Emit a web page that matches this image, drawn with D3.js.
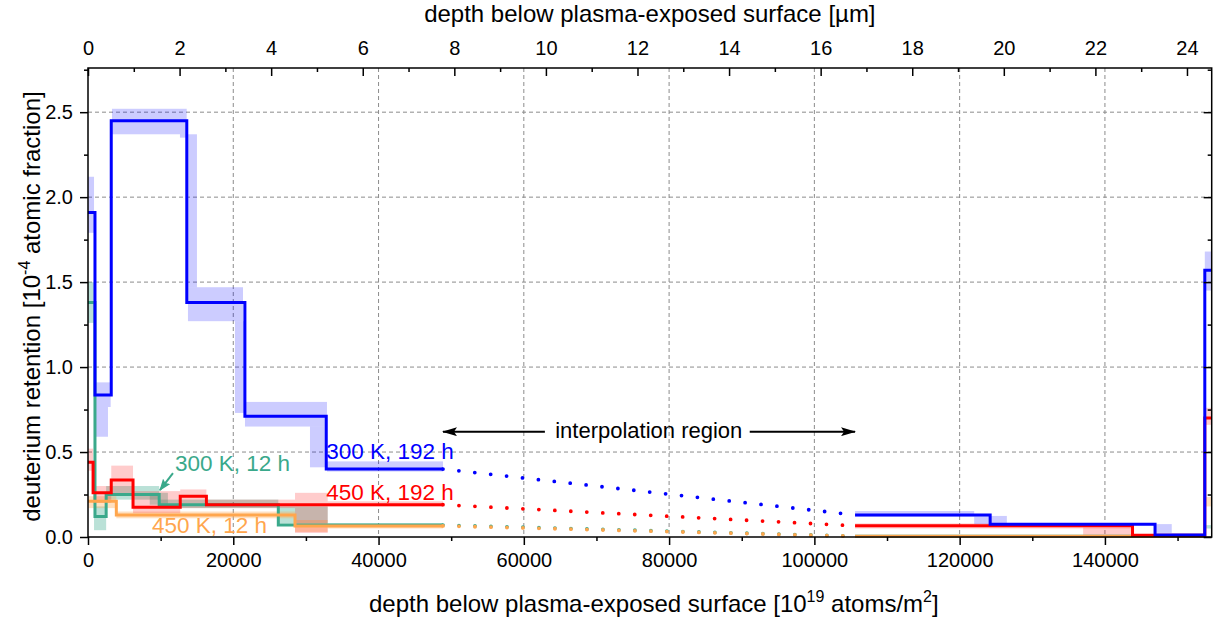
<!DOCTYPE html>
<html>
<head>
<meta charset="utf-8">
<script src="https://cdnjs.cloudflare.com/ajax/libs/d3/7.8.5/d3.min.js"></script>
<style>
body{margin:0;background:#fff;}
svg{display:block;font-family:"Liberation Sans", Arial, sans-serif;}
.axis text{font-size:20px;fill:#000;}
.axis line{stroke:#000;stroke-width:1.5;}
.axis path{display:none;}
</style>
</head>
<body>
<div class="chart-wrapper"></div>
<script>

// step edges are in 10^19 atoms/m2, values in 10^-4 atomic fraction
const blueEdges = [0, 960, 3200, 13600, 21600, 32800, 48870]
const blueValues = [1.91, 0.835, 2.45, 1.38, 0.71, 0.40]
const blueFarEdges = [105600, 124200, 146900, 153750, 154700]
const blueFarValues = [0.13, 0.075, 0.012, 1.57]

const redEdges = [0, 700, 3200, 6200, 12700, 16300, 48870]
const redValues = [0.44, 0.26, 0.335, 0.175, 0.24, 0.19]
const redFarEdges = [105600, 143800, 153750, 154700]
const redFarValues = [0.066, 0.01, 0.70]

const greenEdges = [0, 960, 2500, 9800, 26200, 48870]
const greenValues = [1.38, 0.12, 0.25, 0.19, 0.07]
const greenFarEdges = [105600, 153750]
const greenFarValues = [0.005]

const orangeEdges = [0, 3900, 28500, 48870]
const orangeValues = [0.21, 0.13, 0.065]
const orangeFarEdges = [105600, 153750]
const orangeFarValues = [0.004]

// uncertainty boxes: [x0, x1, low, high]
const blueBands = [
	[0, 830, 1.79, 2.12], [960, 3120, 0.765, 0.91], [960, 2750, 0.59, 0.765],
	[3300, 12660, 2.37, 2.52], [12660, 13590, 2.35, 2.52], [13760, 15000, 1.47, 2.37],
	[13760, 21340, 1.27, 1.47], [20230, 21610, 0.73, 1.27], [21610, 32900, 0.65, 0.795],
	[30560, 32900, 0.41, 0.65], [32900, 48870, 0.385, 0.445], [105600, 122000, 0.12, 0.153],
	[122000, 126500, 0.076, 0.124], [147000, 149200, 0.024, 0.076], [153750, 154700, 1.45, 1.68]
]
const redBands = [
	[0, 700, 0.39, 0.52], [700, 3200, 0.2, 0.3], [3200, 6200, 0.25, 0.42],
	[6200, 12700, 0.14, 0.27], [12700, 16300, 0.17, 0.28], [16300, 28500, 0.17, 0.22],
	[28500, 33000, 0.024, 0.26], [33000, 48870, 0.18, 0.21], [105600, 143800, 0.05, 0.08],
	[137000, 143800, 0.005, 0.055], [153750, 154700, 0.66, 0.76]
]
const greenBands = [
	[0, 830, 1.26, 1.5], [830, 2500, 0.04, 0.18], [2500, 9800, 0.22, 0.3],
	[8500, 11000, 0.19, 0.26], [9800, 26200, 0.17, 0.22], [26200, 33000, 0.08, 0.18],
	[33000, 48870, 0.06, 0.08], [153750, 154700, 0.05, 0.07]
]
const orangeBands = [
	[0, 3900, 0.17, 0.24], [3900, 28500, 0.11, 0.15], [28500, 33000, 0.03, 0.1],
	[33000, 48870, 0.05, 0.065], [105600, 153750, 0, 0.008], [153750, 154700, 0.18, 0.235]
]

const seriesNames = ['300 K, 12 h', '450 K, 12 h', '450 K, 192 h', '300 K, 192 h']

const bottomTicks = d3.range(0, 140001, 20000)
const bottomMinor = d3.range(10000, 150001, 20000)
const topTicks = d3.range(0, 24.1, 2)
const topMinor = d3.range(1, 24.6, 2)
const leftTicks = [0, 0.5, 1.0, 1.5, 2.0, 2.5]
const leftMinor = [0.25, 0.75, 1.25, 1.75, 2.25, 2.75]

const width = 1214;
const height = 621;
const margin = {left:88, top:68, right:2.3, bottom:84}

const series = [
	{name:seriesNames[0], color:'#3aa98b', band:'rgba(58,169,139,0.35)', edges:greenEdges, values:greenValues, farEdges:greenFarEdges, farValues:greenFarValues, bands:greenBands},
	{name:seriesNames[1], color:'#ffa64d', band:'rgba(255,166,77,0.35)', edges:orangeEdges, values:orangeValues, farEdges:orangeFarEdges, farValues:orangeFarValues, bands:orangeBands},
	{name:seriesNames[2], color:'#ff0000', band:'rgba(255,0,0,0.2)', edges:redEdges, values:redValues, farEdges:redFarEdges, farValues:redFarValues, bands:redBands},
	{name:seriesNames[3], color:'#0000ff', band:'rgba(0,0,255,0.2)', edges:blueEdges, values:blueValues, farEdges:blueFarEdges, farValues:blueFarValues, bands:blueBands}
]

const chart = d3.select('.chart-wrapper')
.append('svg')
.attr('width', width)
.attr('height', height);

const xScale = d3.scaleLinear()
.domain([0, 154700])
.range([margin.left, width - margin.right])

const xTopScale = d3.scaleLinear()
.domain([0, 24.54])
.range([margin.left, width - margin.right])

const yScale = d3.scaleLinear()
.domain([0, 2.76])
.range([height - margin.bottom, margin.top])

const defs = chart.append('defs')

defs.append('marker')
.attr('id', 'arrow-black')
.attr('viewBox', '0 0 15 9')
.attr('refX', 14)
.attr('refY', 4.5)
.attr('markerWidth', 15)
.attr('markerHeight', 9)
.attr('markerUnits', 'userSpaceOnUse')
.attr('orient', 'auto')
.append('path')
.attr('d', 'M0,0L15,4.5L0,9L3,4.5Z')
.style('fill', '#000')

defs.append('marker')
.attr('id', 'arrow-green')
.attr('viewBox', '0 0 12 9')
.attr('refX', 11)
.attr('refY', 4.5)
.attr('markerWidth', 12)
.attr('markerHeight', 9)
.attr('markerUnits', 'userSpaceOnUse')
.attr('orient', 'auto')
.append('path')
.attr('d', 'M0,0L12,4.5L0,9L2,4.5Z')
.style('fill', '#3aa98b')

const grid = chart.append('g')
const bands = chart.append('g')
const lines = chart.append('g')
const axis = chart.append('g')
const notes = chart.append('g')

grid.selectAll('.vgrid')
.data(bottomTicks.filter(d => d > 0))
.enter()
.append('line')
.attr('x1', d => xScale(d))
.attr('x2', d => xScale(d))
.attr('y1', margin.top)
.attr('y2', height - margin.bottom)
.style('stroke', '#8c8c8c')
.style('stroke-dasharray', '4,3')

grid.selectAll('.hgrid')
.data(leftTicks.filter(d => d > 0))
.enter()
.append('line')
.attr('x1', margin.left)
.attr('x2', width - margin.right)
.attr('y1', d => yScale(d))
.attr('y2', d => yScale(d))
.style('stroke', '#8c8c8c')
.style('stroke-dasharray', '4,3')

series.forEach(s => {

	bands.append('g')
	.selectAll('rect')
	.data(s.bands)
	.enter()
	.append('rect')
	.attr('x', d => xScale(d[0]))
	.attr('width', d => xScale(d[1]) - xScale(d[0]))
	.attr('y', d => yScale(d[3]))
	.attr('height', d => yScale(d[2]) - yScale(d[3]))
	.style('fill', s.band)
})

const line = d3.line()
.curve(d3.curveStepAfter)
.x(d => xScale(d[0]))
.y(d => yScale(d[1]))

const stepPoints = (edges, values) => edges.map((e,i) => [e, values[Math.min(i, values.length - 1)]])

series.forEach(s => {

	lines.append('path')
	.attr('d', line(stepPoints(s.edges, s.values)))
	.style('fill', 'none')
	.style('stroke', s.color)
	.style('stroke-width', 3)

	lines.append('path')
	.attr('d', line(stepPoints(s.farEdges, s.farValues)))
	.style('fill', 'none')
	.style('stroke', s.color)
	.style('stroke-width', 3)

	lines.append('path')
	.attr('d', d3.line().x(d => xScale(d[0])).y(d => yScale(d[1]))([
		[s.edges.at(-1), s.values.at(-1)],
		[s.farEdges[0], s.farValues[0]]
	]))
	.style('fill', 'none')
	.style('stroke', s.color)
	.style('stroke-width', 3.8)
	.style('stroke-linecap', 'round')
	.style('stroke-dasharray', '0,16')
})

// frame
axis.append('rect')
.attr('x', margin.left)
.attr('y', margin.top)
.attr('width', width - margin.left - margin.right)
.attr('height', height - margin.top - margin.bottom)
.style('fill', 'none')
.style('stroke', '#000')
.style('stroke-width', 1.5)

axis.append('g')
.attr('class', 'axis')
.attr('transform', `translate(0,${height - margin.bottom})`)
.call(d3.axisBottom(xScale).tickValues(bottomTicks).tickSize(8).tickPadding(8).tickFormat(d3.format('d')))

axis.append('g')
.attr('class', 'axis')
.attr('transform', `translate(0,${height - margin.bottom})`)
.call(d3.axisBottom(xScale).tickValues(bottomMinor.filter(d => d < 154700)).tickSize(4).tickFormat(''))

axis.append('g')
.attr('class', 'axis')
.attr('transform', `translate(0,${margin.top})`)
.call(d3.axisTop(xTopScale).tickValues(topTicks).tickSize(-8).tickPadding(13).tickFormat(d3.format('d')))

axis.append('g')
.attr('class', 'axis')
.attr('transform', `translate(0,${margin.top})`)
.call(d3.axisTop(xTopScale).tickValues(topMinor).tickSize(-4).tickFormat(''))

axis.append('g')
.attr('class', 'axis')
.attr('transform', `translate(${margin.left},0)`)
.call(d3.axisLeft(yScale).tickValues(leftTicks).tickSize(8).tickPadding(7).tickFormat(d3.format('.1f')))

axis.append('g')
.attr('class', 'axis')
.attr('transform', `translate(${margin.left},0)`)
.call(d3.axisLeft(yScale).tickValues(leftMinor).tickSize(4).tickFormat(''))

axis.append('g')
.attr('class', 'axis')
.attr('transform', `translate(${width - margin.right},0)`)
.call(d3.axisRight(yScale).tickValues(leftTicks).tickSize(-8).tickFormat(''))

axis.append('g')
.attr('class', 'axis')
.attr('transform', `translate(${width - margin.right},0)`)
.call(d3.axisRight(yScale).tickValues(leftMinor).tickSize(-4).tickFormat(''))

// axis titles
const plotMid = (margin.left + width - margin.right) / 2

chart.append('text')
.attr('x', plotMid)
.attr('y', 22)
.attr('text-anchor', 'middle')
.style('font-size', '24px')
.text('depth below plasma-exposed surface [µm]')

let bottomTitle = chart.append('text')
.attr('x', plotMid + 4)
.attr('y', 612)
.attr('text-anchor', 'middle')
.style('font-size', '24px')

bottomTitle.append('tspan').text('depth below plasma-exposed surface [10')
bottomTitle.append('tspan').attr('dy', -10).style('font-size', '16px').text('19')
bottomTitle.append('tspan').attr('dy', 10).text(' atoms/m')
bottomTitle.append('tspan').attr('dy', -10).style('font-size', '16px').text('2')
bottomTitle.append('tspan').attr('dy', 10).text(']')

let leftTitle = chart.append('text')
.attr('transform', `translate(40,${(margin.top + height - margin.bottom) / 2 + 4}) rotate(-90)`)
.attr('text-anchor', 'middle')
.style('font-size', '24px')

leftTitle.append('tspan').text('deuterium retention [10')
leftTitle.append('tspan').attr('dy', -10).style('font-size', '16px').text('-4')
leftTitle.append('tspan').attr('dy', 10).text(' atomic fraction]')

// annotations
notes.append('line')
.attr('x1', xScale(62900))
.attr('x2', xScale(48870))
.attr('y1', yScale(0.62))
.attr('y2', yScale(0.62))
.style('stroke', '#000')
.style('stroke-width', 2)
.attr('marker-end', 'url(#arrow-black)')

notes.append('line')
.attr('x1', xScale(91100))
.attr('x2', xScale(105600))
.attr('y1', yScale(0.62))
.attr('y2', yScale(0.62))
.style('stroke', '#000')
.style('stroke-width', 2)
.attr('marker-end', 'url(#arrow-black)')

notes.append('text')
.attr('x', xScale(77200))
.attr('y', yScale(0.582))
.attr('text-anchor', 'middle')
.style('font-size', '22px')
.text('interpolation region')

notes.append('line')
.attr('x1', xScale(11700))
.attr('y1', yScale(0.376))
.attr('x2', xScale(9900))
.attr('y2', yScale(0.276))
.style('stroke', '#3aa98b')
.style('stroke-width', 2)
.attr('marker-end', 'url(#arrow-green)')

const labelPos = [[11980, 0.39], [8800, 0.024], [32800, 0.218], [32800, 0.46]]

series.forEach((s,i) => {
	notes.append('text')
	.attr('x', xScale(labelPos[i][0]))
	.attr('y', yScale(labelPos[i][1]))
	.style('font-size', '22.5px')
	.style('fill', s.color)
	.text(s.name)
})

</script>
</body>
</html>
